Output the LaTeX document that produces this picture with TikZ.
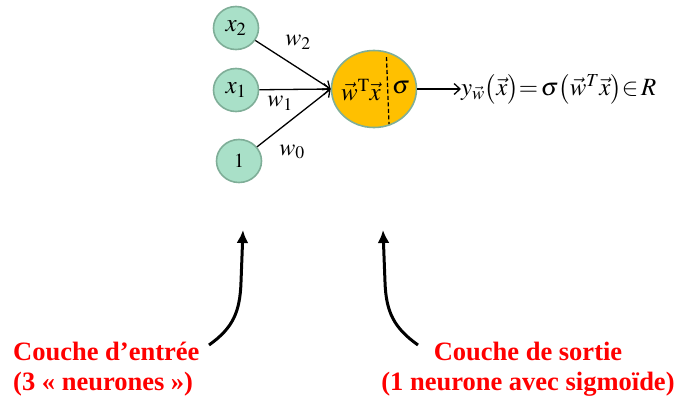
\documentclass[tikz,border=0pt]{standalone}
\usepackage{mathptmx}
\usepackage{fontspec}
\setmainfont{Liberation Serif}
\usetikzlibrary{shapes.geometric,arrows.meta}
\definecolor{infill}{HTML}{A9E0C8}
\definecolor{inborder}{HTML}{7FAE98}
\definecolor{outfill}{HTML}{FFC000}
\tikzset{
  inneuron/.style={ellipse, draw=inborder, line width=1.6pt, fill=infill,
    minimum width=45pt, minimum height=43pt, inner sep=0pt,
    font=\fontsize{25}{28}\selectfont},
  outneuron/.style={ellipse, draw=inborder, line width=1.6pt, fill=outfill,
    minimum width=85pt, minimum height=77pt, inner sep=0pt},
  weight/.style={font=\fontsize{24}{26}\selectfont, inner sep=0pt},
  conn/.style={line width=1.3pt, -{Straight Barb[length=6pt,width=11pt,line width=1.3pt]}},
  bigarrow/.style={line width=3pt, -{Latex[length=13pt,width=12pt]}},
  redlabel/.style={text=red, font=\bfseries\fontsize{26.5}{30}\selectfont, inner sep=0pt},
  mathlabel/.style={font=\fontsize{25}{28}\selectfont, inner sep=0pt}
}
\begin{document}
\begin{tikzpicture}[x=1pt,y=-1pt]
\useasboundingbox (0,0) rectangle (678,400);
% input neurons
\node[inneuron] (x2) at (236,28) {$x_2$};
\node[inneuron] (x1) at (236,90) {$x_1$};
\node[inneuron, font=\fontsize{20}{24}\selectfont] (one) at (239,161) {$1$};
% output neuron
\node[outneuron] (out) at (374,89) {};
\coordinate (dtop) at (386.5,57);
\coordinate (dbot) at (389,124);
\draw[line width=1.3pt, dash pattern=on 4pt off 2.5pt] (dtop) -- (dbot);
\node[mathlabel] (wx) at (361,90) {$\vec w^{\mathrm{T}}\vec x$};
\node[mathlabel] (sig) at (401,88) {$\sigma$};
% connections
\draw[conn] (x2) -- (out.west);
\draw[conn] (x1) -- (out.west);
\draw[conn] (one) -- (out.west);
\node[weight] (w2) at (298,42) {$w_2$};
\node[weight] (w1) at (280,103) {$w_1$};
\node[weight] (w0) at (292,152) {$w_0$};
% output
\node[mathlabel, anchor=west] (formula) at (461,89)
  {\resizebox{195pt}{!}{$y_{\vec w}\bigl(\vec x\bigr){=}\,\sigma\bigl(\vec w^{T}\vec x\bigr){\in}\,R$}};
\draw[conn] (out.east) -- (formula.west);
% labels
\node[redlabel, anchor=base west] (l1a) at (13,360) {Couche d’entrée};
\node[redlabel, anchor=base west] (l1b) at (13,390) {(3 « neurones »)};
\node[redlabel, anchor=base] (l2a) at (528,360) {Couche de sortie};
\node[redlabel, anchor=base] (l2b) at (528,390) {(1 neurone avec sigmoïde)};
\coordinate (t1) at (209,345);
\coordinate (h1) at (243,230);
\coordinate (t2) at (418,345);
\coordinate (h2) at (383,230);
\draw[bigarrow] (t1) .. controls (233,328) and (240,312) .. (241,282) -- (h1);
\draw[bigarrow] (t2) .. controls (394,328) and (386,312) .. (385,282) -- (h2);
\end{tikzpicture}
\end{document}
